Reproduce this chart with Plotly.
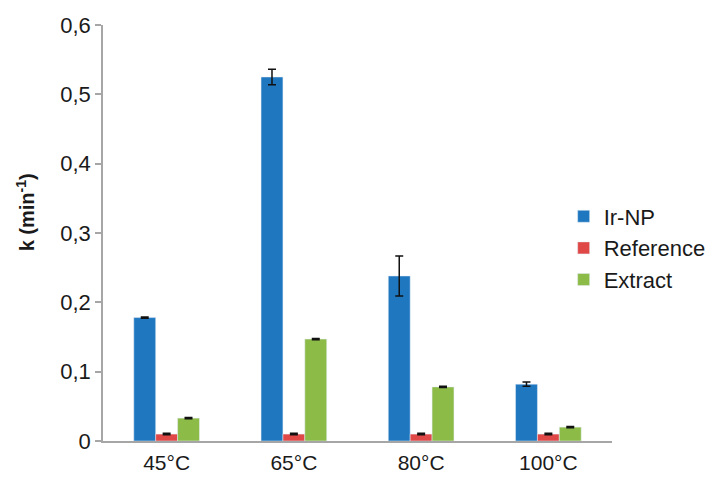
import plotly.graph_objects as go

categories = ["45°C", "65°C", "80°C", "100°C"]
ir_np = [0.178, 0.525, 0.238, 0.082]
ir_np_err = [0.001, 0.011, 0.029, 0.003]
reference = [0.010, 0.010, 0.010, 0.010]
reference_err = [0.001, 0.001, 0.001, 0.001]
extract = [0.033, 0.147, 0.078, 0.020]
extract_err = [0.001, 0.001, 0.001, 0.001]
y_ticks = [0, 0.1, 0.2, 0.3, 0.4, 0.5, 0.6]
y_tick_labels = ["0", "0,1", "0,2", "0,3", "0,4", "0,5", "0,6"]

font_family = "Liberation Sans, Arial, sans-serif"
text_color = "#1a1a1a"

def err(vals):
    return dict(type="data", array=vals, visible=True, color="#111111", thickness=1.5, width=4)

fig = go.Figure()
fig.add_trace(go.Bar(name="Ir-NP", x=categories, y=ir_np, marker_color="#1f77c0", error_y=err(ir_np_err)))
fig.add_trace(go.Bar(name="Reference", x=categories, y=reference, marker_color="#e04848", error_y=err(reference_err)))
fig.add_trace(go.Bar(name="Extract", x=categories, y=extract, marker_color="#8cbb48", error_y=err(extract_err)))

fig.update_layout(
    width=715, height=469,
    margin=dict(l=95, r=108, t=17, b=36),
    paper_bgcolor="white", plot_bgcolor="white",
    barmode="group", bargap=0.484, bargroupgap=0,
    font=dict(family=font_family, size=22, color=text_color),
    showlegend=True,
    legend=dict(x=0.905, y=0.464, xanchor="left", yanchor="middle",
                font=dict(size=22, color=text_color), bgcolor="rgba(0,0,0,0)",
                itemwidth=30),
    xaxis=dict(showline=True, linecolor="#a6a6a6", linewidth=1.5, ticks="",
               showgrid=False, tickfont=dict(size=21, color=text_color),
               ticklabelstandoff=2, automargin=False),
    yaxis=dict(range=[0, 0.6], tickvals=y_ticks, ticktext=y_tick_labels,
               showline=True, linecolor="#a6a6a6", linewidth=1.5,
               ticks="outside", ticklen=6, tickcolor="#a6a6a6", tickwidth=1.5,
               showgrid=False, zeroline=False, automargin=False,
               tickfont=dict(size=22, color=text_color)),
    annotations=[dict(text="<b>k (min<sup>-1</sup>)</b>", xref="paper", yref="paper",
                      x=-0.153, y=0.55, textangle=-90, showarrow=False,
                      xanchor="center", yanchor="middle",
                      font=dict(size=20, color=text_color, family=font_family))],
)

fig.write_html("out.html")
